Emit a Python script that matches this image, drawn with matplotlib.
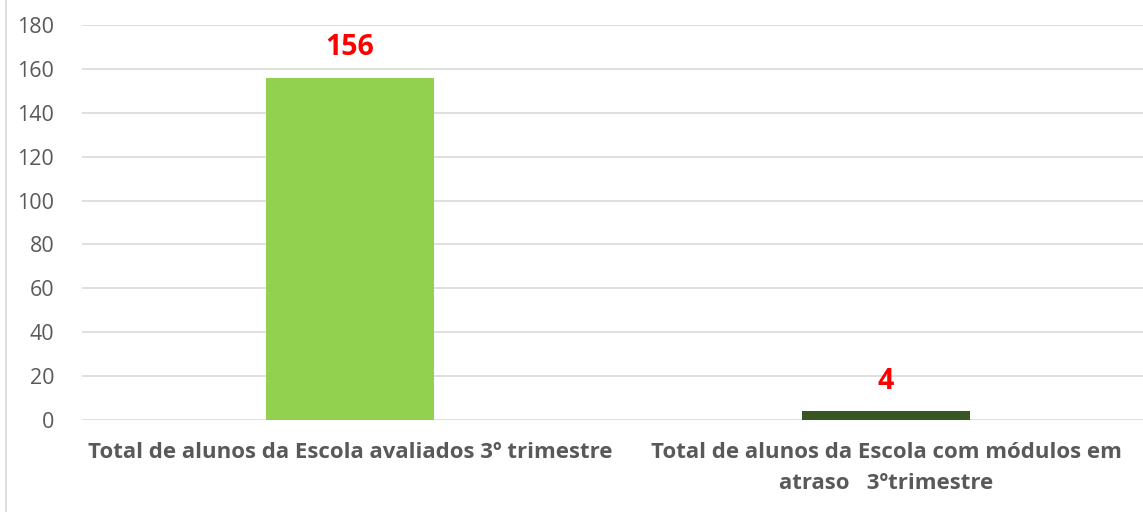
import matplotlib
matplotlib.use("Agg")
import matplotlib.pyplot as plt
from matplotlib.lines import Line2D

categories = ["Total de alunos da Escola avaliados 3º trimestre",
              "Total de alunos da Escola com módulos em\natraso   3ºtrimestre"]
values = [156, 4]
bar_colors = ["#92D050", "#375623"]
yticks = [0, 20, 40, 60, 80, 100, 120, 140, 160, 180]

plt.rcParams["font.family"] = ["Open Sans", "DejaVu Sans"]

fig = plt.figure(figsize=(11.43, 5.12), dpi=100)
ax = fig.add_axes([82 / 1143, 92 / 512, 1072 / 1143, 395 / 512])

x = range(len(categories))
ax.bar(x, values, width=0.315, color=bar_colors, zorder=3)
for xi, v in zip(x, values):
    ax.text(xi, v + 7, str(v), ha="center", va="bottom", color="#FF0000",
            fontsize=20.5, fontweight="bold", zorder=4)

ax.set_xlim(-0.5, 1.5)
ax.set_ylim(0, 180)
ax.set_yticks(yticks)
ax.set_xticks(list(x))
ax.set_xticklabels(categories, fontsize=16, fontweight="bold", color="#595959",
                   linespacing=1.6)
ax.tick_params(axis="y", length=0, pad=20, labelsize=15.5, labelcolor="#595959")
ax.tick_params(axis="x", length=0, pad=16)
ax.grid(axis="y", color="#D9D9D9", linewidth=1.2, zorder=0)
for s in ax.spines.values():
    s.set_visible(False)

# left chart-area frame edge
fig.add_artist(Line2D([6 / 1143, 6 / 1143], [0, 1], color="#D9D9D9", linewidth=1.2))

fig.savefig("out.png", dpi=100)
